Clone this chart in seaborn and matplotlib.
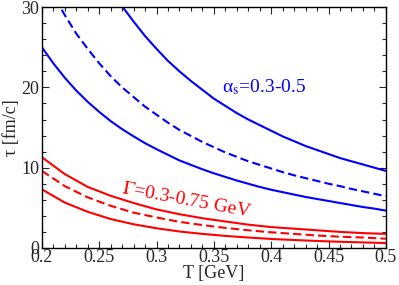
import matplotlib
matplotlib.use('Agg')
import matplotlib.pyplot as plt
import seaborn as sns
import pandas as pd
from matplotlib.ticker import MultipleLocator

# Temperaturas (GeV): curvas azules en pasos de 0.01, rojas en pasos de 0.02
T_alpha = [0.20, 0.21, 0.22, 0.23, 0.24, 0.25, 0.26, 0.27, 0.28, 0.29, 0.30,
           0.31, 0.32, 0.33, 0.34, 0.35, 0.36, 0.37, 0.38, 0.39, 0.40,
           0.41, 0.42, 0.43, 0.44, 0.45, 0.46, 0.47, 0.48, 0.49, 0.50]
T_gamma = [0.20, 0.22, 0.24, 0.26, 0.28, 0.30, 0.32, 0.34,
           0.36, 0.38, 0.40, 0.42, 0.44, 0.46, 0.48, 0.50]

# tiempos tau [fm/c]
alpha_upper = [52.5, 48.0, 44.0, 40.5, 37.5, 34.7, 32.3, 30.1, 28.2, 26.4, 24.8,
               23.3, 22.0, 20.8, 19.7, 18.6, 17.7, 16.8, 16.0, 15.3, 14.6,
               13.9, 13.3, 12.7, 12.2, 11.7, 11.2, 10.8, 10.4, 10.0, 9.6]
alpha_mid = [34.2, 31.5, 29.0, 26.7, 24.8, 23.0, 21.4, 20.0, 18.8, 17.6, 16.6,
             15.6, 14.7, 13.95, 13.2, 12.55, 11.9, 11.35, 10.8, 10.35, 9.9,
             9.45, 9.05, 8.7, 8.35, 8.0, 7.7, 7.35, 7.05, 6.75, 6.45]
alpha_lower = [25.0, 23.0, 21.2, 19.6, 18.2, 16.95, 15.8, 14.8, 13.9, 13.05, 12.3,
               11.6, 10.9, 10.35, 9.8, 9.3, 8.85, 8.4, 8.0, 7.6, 7.25,
               6.95, 6.65, 6.35, 6.1, 5.85, 5.6, 5.35, 5.1, 4.9, 4.65]

gamma_upper = [11.3, 9.2, 7.6, 6.5, 5.6, 4.8, 4.2, 3.7,
               3.3, 2.9, 2.6, 2.4, 2.2, 2.0, 1.85, 1.75]
gamma_mid = [9.6, 7.7, 6.3, 5.25, 4.4, 3.8, 3.25, 2.85,
             2.5, 2.2, 1.95, 1.75, 1.55, 1.4, 1.3, 1.15]
gamma_lower = [7.3, 5.65, 4.5, 3.6, 2.95, 2.45, 2.05, 1.75,
               1.5, 1.3, 1.12, 0.99, 0.87, 0.77, 0.69, 0.61]

series = [
    (T_alpha, alpha_upper, 'blue', '-'),
    (T_alpha, alpha_mid, 'blue', '--'),
    (T_alpha, alpha_lower, 'blue', '-'),
    (T_gamma, gamma_upper, 'red', '-'),
    (T_gamma, gamma_mid, 'red', '--'),
    (T_gamma, gamma_lower, 'red', '-'),
]

sns.set_style('ticks')
plt.rcParams['font.family'] = ['Liberation Serif', 'DejaVu Serif']
plt.rcParams['mathtext.fontset'] = 'stix'
plt.rcParams['xtick.direction'] = 'in'
plt.rcParams['ytick.direction'] = 'in'

fig = plt.figure(figsize=(3.99, 2.85), dpi=100)
ax = fig.add_axes([0.105, 0.130, 0.862, 0.845])

for xs, vals, col, ls in series:
    df = pd.DataFrame({'T': xs, 'tau': vals})
    sns.lineplot(data=df, x='T', y='tau', color=col, lw=1.5, ax=ax)
    if ls == '--':
        ax.lines[-1].set_dashes((4, 2))

ax.set_xlim(0.2, 0.5)
ax.set_ylim(0, 30)
ax.xaxis.set_minor_locator(MultipleLocator(0.01))
ax.yaxis.set_major_locator(MultipleLocator(10))
ax.yaxis.set_minor_locator(MultipleLocator(2))
ax.set_xticks([0.2, 0.25, 0.3, 0.35, 0.4, 0.45, 0.5])
ax.set_xticklabels(['0.2', '0.25', '0.3', '0.35', '0.4', '0.45', '0.5'])
ax.tick_params(which='both', top=True, right=True, labelsize=13)
ax.tick_params(axis='x', pad=1)
ax.tick_params(axis='y', pad=2)
ax.tick_params(which='major', length=5, width=0.8)
ax.tick_params(which='minor', length=3, width=0.8)
for s in ax.spines.values():
    s.set_linewidth(1.0)
    s.set_color('black')

ax.set_xlabel('T [GeV]', fontsize=13, labelpad=-1)
ax.set_ylabel('τ [fm/c]', fontsize=13, labelpad=1)

ax.text(0.357, 19.4, 'α$_{\\rm s}$=0.3-0.5', color='blue', fontsize=14,
        ha='left', va='baseline')
ax.text(0.326, 5.9, '$\\mathit{\\Gamma}$=0.3-0.75 GeV', color='red', fontsize=14,
        ha='center', va='center', rotation=-10.5, rotation_mode='anchor')

fig.savefig('out.png', dpi=100)
